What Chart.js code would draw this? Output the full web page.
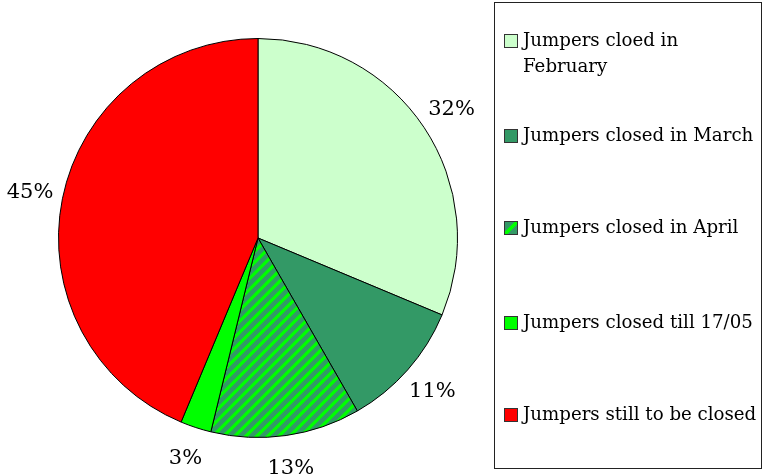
<!DOCTYPE html>
<html>
<head>
<meta charset="utf-8">
<script src="https://cdn.jsdelivr.net/npm/chart.js"></script>
<style>
  body { margin:0; background:#fff; }
  #wrap { position:relative; width:766px; height:475px; }
  #legendBox {
    position:absolute; left:494px; top:2px; width:268px; height:467px;
    border:1px solid #222; box-sizing:border-box;
    font-family:"DejaVu Serif", serif; font-size:18.2px; color:#000;
  }
  .item { position:absolute; left:9px; width:258px; display:flex; align-items:flex-start; line-height:26px; }
  .sw { width:12px; height:12px; border:1px solid #333; margin-top:7px; margin-right:5px; flex:none; }
  .txt { white-space:nowrap; }
  .txt.wrap { white-space:normal; max-width:220px; }
</style>
</head>
<body>
<div id="wrap">
  <canvas id="myChart" width="766" height="475"></canvas>
  <div id="legendBox"></div>
</div>
<script>
var labels = ['Jumpers cloed in February', 'Jumpers closed in March', 'Jumpers closed in April', 'Jumpers closed till 17/05', 'Jumpers still to be closed'];
var values = [31.3, 10.4, 12.1, 2.5, 43.7];
var pctText = ['32%', '11%', '13%', '3%', '45%'];
var colors = ['#ccffcc', '#339966', 'hatch', '#00ff00', '#ff0000'];
var legendTops = [24, 119, 211, 306, 398];

function makeHatch() {
  var s = 11;
  var c = document.createElement('canvas');
  c.width = s; c.height = s;
  var g = c.getContext('2d');
  g.fillStyle = '#339966';
  g.fillRect(0, 0, s, s);
  g.strokeStyle = '#00ff00';
  g.lineWidth = 3.2;
  g.beginPath();
  g.moveTo(0, s); g.lineTo(s, 0);
  g.moveTo(-s/2, s/2); g.lineTo(s/2, -s/2);
  g.moveTo(s/2, s*1.5); g.lineTo(s*1.5, s/2);
  g.stroke();
  return c;
}
var hatchCanvas = makeHatch();
var ctx = document.getElementById('myChart').getContext('2d');
var hatch = ctx.createPattern(hatchCanvas, 'repeat');
var fills = colors.map(function(c){ return c === 'hatch' ? hatch : c; });

// legend
var box = document.getElementById('legendBox');
labels.forEach(function(l, i){
  var d = document.createElement('div');
  d.className = 'item';
  d.style.top = legendTops[i] + 'px';
  var sw = document.createElement('span');
  sw.className = 'sw';
  if (colors[i] === 'hatch') {
    sw.style.background = 'linear-gradient(135deg, #339966 40%, #00ff00 40%, #00ff00 60%, #339966 60%)';
  } else {
    sw.style.background = colors[i];
  }
  var t = document.createElement('span');
  t.className = i === 0 ? 'txt wrap' : 'txt';
  t.textContent = l;
  d.appendChild(sw); d.appendChild(t);
  box.appendChild(d);
});

// percentage labels outside the pie
var outerLabels = {
  id: 'outerLabels',
  afterDatasetsDraw: function(chart) {
    var c = chart.ctx;
    var meta = chart.getDatasetMeta(0);
    c.save();
    c.font = '21px "DejaVu Serif", serif';
    c.fillStyle = '#000';
    c.textAlign = 'center';
    c.textBaseline = 'middle';
    meta.data.forEach(function(arc, i){
      var p = arc.getProps(['x','y','startAngle','endAngle','outerRadius']);
      var a = (p.startAngle + p.endAngle) / 2;
      var r = p.outerRadius + 33;
      c.fillText(pctText[i], p.x + Math.cos(a) * r, p.y + Math.sin(a) * r);
    });
    c.restore();
  }
};

new Chart(ctx, {
  type: 'pie',
  data: {
    labels: labels,
    datasets: [{
      data: values,
      backgroundColor: fills,
      borderColor: '#000',
      borderWidth: 1
    }]
  },
  options: {
    responsive: false,
    animation: false,
    layout: { padding: { left: 58, right: 308, top: 38, bottom: 37 } },
    plugins: { legend: { display: false }, tooltip: { enabled: false } }
  },
  plugins: [outerLabels]
});
</script>
</body>
</html>
